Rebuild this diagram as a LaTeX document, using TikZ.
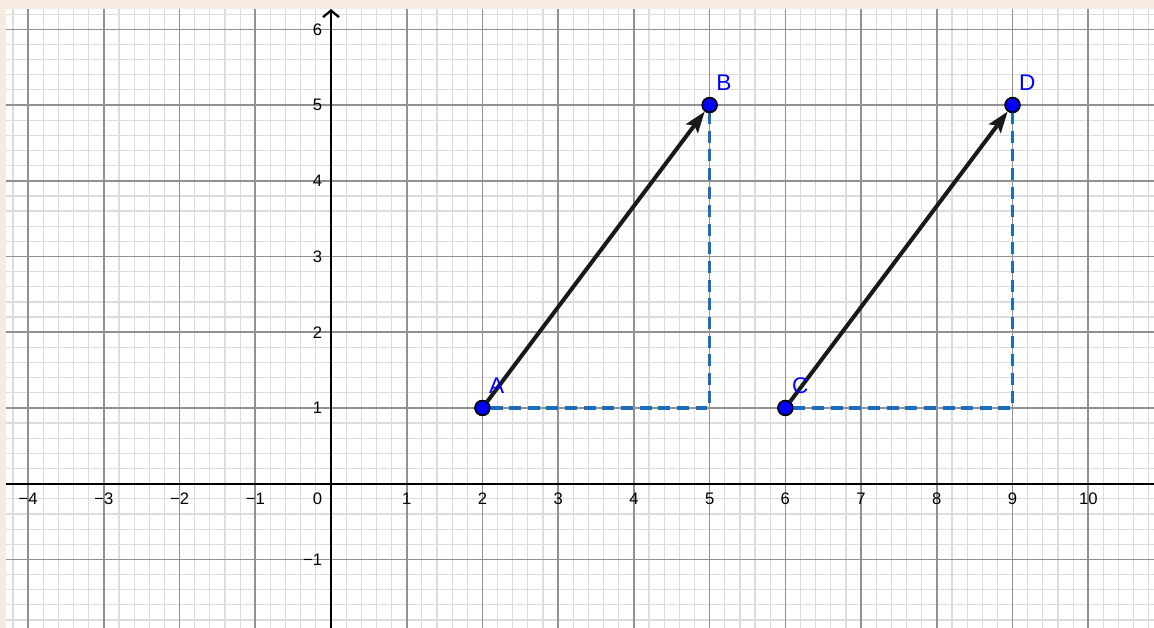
\documentclass[tikz,border=0pt]{standalone}
\usepackage{fontspec}
\setmainfont{Liberation Sans}
\usetikzlibrary{arrows.meta, positioning}
\definecolor{bgpeach}{RGB}{246,235,225}
\definecolor{gridmajor}{RGB}{145,145,145}
\definecolor{gridminor}{RGB}{220,220,220}
\definecolor{dashblue}{RGB}{28,108,190}
\definecolor{ptblue}{RGB}{0,0,255}
\tikzset{
  pt/.style={circle, fill=ptblue, draw=black, line width=1.2pt, minimum size=11pt, inner sep=0pt},
  ptlabel/.style={text=ptblue, font=\fontsize{17}{19}\selectfont, inner sep=0pt},
  ticklabel/.style={font=\fontsize{12.5}{14}\selectfont, inner sep=1pt},
  vec/.style={line width=3pt, black!90, -{Stealth[length=16pt,width=11pt,inset=3pt]}},
  proj/.style={line width=2.6pt, dashblue, dash pattern=on 9pt off 5pt}
}

\begin{document}
\begin{tikzpicture}[scale=2]
\useasboundingbox (-4.371,-1.905) rectangle (10.868,6.387);
\fill[bgpeach] (-4.371,-1.905) rectangle (10.868,6.387);
\fill[white] (-4.292,-1.905) rectangle (10.868,6.268);

\begin{scope}
\clip (-4.292,-1.905) rectangle (10.868,6.268);
\draw[gridminor, line width=0.9pt, step=0.2] (-4.4,-2) grid (11,6.4);
\draw[gridmajor, line width=1.2pt, step=1] (-4.4,-2) grid (11,6.4);
\end{scope}

\draw[line width=1.7pt] (-4.292,0) -- (10.868,0);
\draw[line width=1.7pt, -{Straight Barb[length=5pt,width=12pt]}] (0,-1.905) -- (0,6.268);

\foreach \x in {1,...,10}
  \node[ticklabel, below=5.5pt] at (\x,0) {\x};
\foreach \x in {1,...,4}
  \node[ticklabel, below=5.5pt] at (-\x,0) {−\x};
\foreach \y in {1,...,6}
  \node[ticklabel, left=5.5pt] at (0,\y) {\y};
\node[ticklabel, left=5.5pt] at (0,-1) {−1};
\node[ticklabel, below left=5.5pt and 5.5pt] at (0,0) {0};

\coordinate (ABcorner) at (5,1);
\coordinate (CDcorner) at (9,1);

\node[pt] (A) at (2,1) {};
\node[pt] (B) at (5,5) {};
\node[pt] (C) at (6,1) {};
\node[pt] (D) at (9,5) {};

\draw[proj] (A) -- (ABcorner) -- (B);
\draw[proj] (C) -- (CDcorner) -- (D);
\draw[vec] (A) -- (B);
\draw[vec] (C) -- (D);

% points on top of the lines
\foreach \p in {A,B,C,D}
  \node[pt] at (\p) {};

\node[ptlabel, above right=6.5pt and 0.5pt of A] (Alabel) {A};
\node[ptlabel, above right=6.5pt and 0.5pt of B] (Blabel) {B};
\node[ptlabel, above right=6.5pt and 0.5pt of C] (Clabel) {C};
\node[ptlabel, above right=6.5pt and 0.5pt of D] (Dlabel) {D};
\end{tikzpicture}
\end{document}
